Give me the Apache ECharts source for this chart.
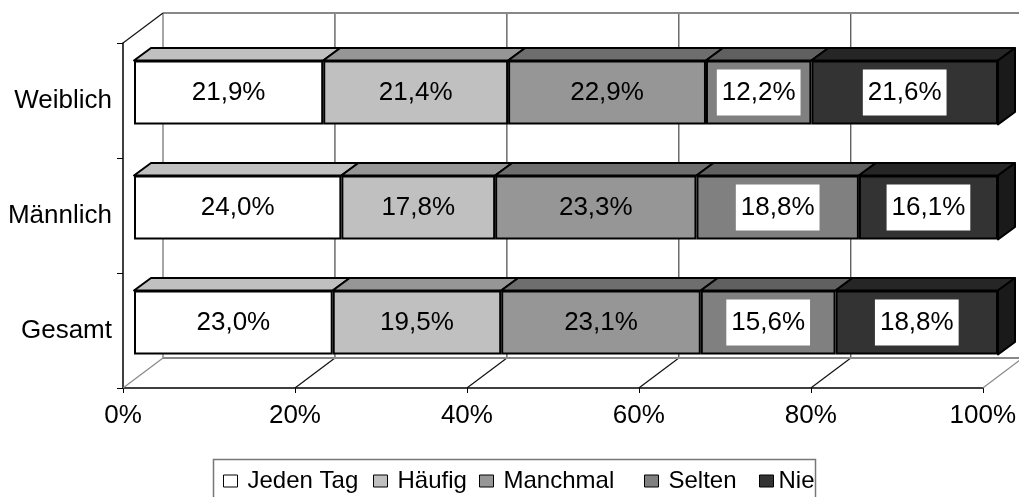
<!DOCTYPE html>
<html>
<head>
<meta charset="utf-8">
<script src="https://cdn.jsdelivr.net/npm/echarts@6/dist/echarts.min.js"></script>
<style>
  html, body { margin: 0; padding: 0; background: #fff; }
  #chart { width: 1019px; height: 497px; }
</style>
</head>
<body>
<div id="chart"></div>
<script>
// data
const categories = ['Weiblich', 'Männlich', 'Gesamt'];
const seriesNames = ['Jeden Tag', 'Häufig', 'Manchmal', 'Selten', 'Nie'];
const jedenTag = [21.9, 24.0, 23.0];
const haeufig = [21.4, 17.8, 19.5];
const manchmal = [22.9, 23.3, 23.1];
const selten = [12.2, 18.8, 15.6];
const nie = [21.6, 16.1, 18.8];
const xTicks = [0, 20, 40, 60, 80, 100];

const values = [jedenTag, haeufig, manchmal, selten, nie];

// styling
const FONT = '"Liberation Sans", Arial, sans-serif';
const frontColors = ['#FFFFFF', '#C0C0C0', '#969696', '#808080', '#333333'];
const topColors = ['#C0C0C0', '#969696', '#6E6E6E', '#606060', '#262626'];
const sideColor = '#1A1A1A';
const boxedLabel = [false, false, false, true, true];
// legend columns, Excel spacing
const legendX = [223, 373, 479, 644, 759];
const legendTextPad = [5, 5, 5, 5, 0];

// 3D geometry (pixels)
const WALL_DX = 40, WALL_DY = -30;     // depth of the chart box
const BAR_DX = 11, BAR_DY = -8;        // front face of the bars inside the box
const DEPTH_DX = 17, DEPTH_DY = -12.5; // depth of the bars
const BAR_W = 64;

const G = { left: 123, right: 32, top: 43, bottom: 109 };

const fmt = v => v.toFixed(1).replace('.', ',') + '%';

// segments for the top / side faces
const segments = [];
categories.forEach((c, ci) => {
  let acc = 0;
  values.forEach((arr, si) => {
    segments.push([acc, acc + arr[ci], ci, si]);
    acc += arr[ci];
  });
});

const chart = echarts.init(document.getElementById('chart'));

const frameSeries = {
  type: 'custom',
  name: 'frame',
  xAxisIndex: 0,
  yAxisIndex: 0,
  clip: false,
  silent: true,
  z: 1,
  data: [[0, 0]],
  renderItem: (params, api) => {
    const cs = params.coordSys;
    const yTop = cs.y, yBot = cs.y + cs.height;
    const kids = [];
    const ln = (x1, y1, x2, y2, stroke, w) => kids.push({
      type: 'line', shape: { x1, y1, x2, y2 }, style: { stroke, lineWidth: w }
    });
    const xs = xTicks.map(t => api.coord([t, 0])[0]);
    // back wall grid + floor diagonals
    xs.forEach((x, i) => {
      const edge = i === 0 || i === xs.length - 1;
      if (!edge) ln(x + WALL_DX, yTop + WALL_DY, x + WALL_DX, yBot + WALL_DY, '#222', 1);
      ln(x, yBot, x + WALL_DX, yBot + WALL_DY, edge ? '#888' : '#111', 1.2);
    });
    const x0 = xs[0], x1 = xs[xs.length - 1];
    // back wall outline
    ln(x0 + WALL_DX, yTop + WALL_DY, x0 + WALL_DX, yBot + WALL_DY, '#888', 1.5);
    ln(x0 + WALL_DX, yTop + WALL_DY, x1 + WALL_DX, yTop + WALL_DY, '#888', 2);
    ln(x0 + WALL_DX, yBot + WALL_DY, x1 + WALL_DX, yBot + WALL_DY, '#888', 2);
    // left wall top edge
    ln(x0, yTop, x0 + WALL_DX, yTop + WALL_DY, '#111', 1.2);
    return { type: 'group', children: kids };
  }
};

const barSeries = seriesNames.map((name, si) => ({
  type: 'bar',
  name,
  stack: 'total',
  xAxisIndex: 1,
  yAxisIndex: 1,
  barWidth: BAR_W,
  z: 3,
  data: values[si],
  itemStyle: { color: frontColors[si], borderColor: '#000', borderWidth: 2 },
  label: {
    show: true,
    position: 'inside',
    color: '#000',
    fontFamily: FONT,
    fontSize: 26,
    formatter: p => fmt(p.value),
    backgroundColor: boxedLabel[si] ? '#fff' : 'transparent',
    padding: boxedLabel[si] ? [10, 5, 10, 5] : 0
  }
}));

const faceSeries = {
  type: 'custom',
  name: 'faces',
  xAxisIndex: 1,
  yAxisIndex: 1,
  clip: false,
  silent: true,
  z: 4,
  data: segments,
  encode: { x: [0, 1], y: 2 },
  renderItem: (params, api) => {
    const s = api.value(0), e = api.value(1), c = api.value(2), k = api.value(3);
    const p0 = api.coord([s, c]);
    const p1 = api.coord([e, c]);
    const yt = p0[1] - BAR_W / 2, yb = p0[1] + BAR_W / 2;
    const kids = [{
      type: 'polygon',
      shape: { points: [[p0[0], yt], [p1[0], yt], [p1[0] + DEPTH_DX, yt + DEPTH_DY], [p0[0] + DEPTH_DX, yt + DEPTH_DY]] },
      style: { fill: topColors[k], stroke: '#000', lineWidth: 2, lineJoin: 'round' }
    }];
    if (k === seriesNames.length - 1) {
      kids.push({
        type: 'polygon',
        shape: { points: [[p1[0], yt], [p1[0] + DEPTH_DX, yt + DEPTH_DY], [p1[0] + DEPTH_DX, yb + DEPTH_DY], [p1[0], yb]] },
        style: { fill: sideColor, stroke: '#000', lineWidth: 2, lineJoin: 'round' }
      });
    }
    return { type: 'group', children: kids };
  }
};

// one legend per entry so each sits in its own column
const legends = seriesNames.map((n, i) => ({
  left: legendX[i],
  top: 469,
  padding: 0,
  itemWidth: 14,
  itemHeight: 12,
  icon: 'rect',
  itemStyle: { borderColor: '#000', borderWidth: 1 },
  textStyle: { color: '#000', fontSize: 24, fontFamily: FONT, padding: [0, 0, 0, legendTextPad[i]] },
  data: [n]
}));

const option = {
  animation: false,
  backgroundColor: '#fff',
  textStyle: { fontFamily: FONT },
  grid: [
    { left: G.left, right: G.right, top: G.top, bottom: G.bottom },
    { left: G.left + BAR_DX, right: G.right - BAR_DX, top: G.top + BAR_DY, bottom: G.bottom - BAR_DY }
  ],
  xAxis: [
    {
      type: 'value', gridIndex: 0, min: 0, max: 100, interval: 20,
      axisLine: { show: true, lineStyle: { color: '#000', width: 1.5 } },
      axisTick: { show: true, length: 5, lineStyle: { color: '#000' } },
      splitLine: { show: false },
      axisLabel: { color: '#000', fontSize: 26, fontFamily: FONT, margin: 15, formatter: '{value}%' }
    },
    { type: 'value', gridIndex: 1, min: 0, max: 100, show: false, splitLine: { show: false } }
  ],
  yAxis: [
    {
      type: 'category', gridIndex: 0, data: categories, inverse: true,
      axisLine: { show: true, lineStyle: { color: '#000', width: 1.5 } },
      axisTick: { show: true, length: 6, lineStyle: { color: '#000' } },
      axisLabel: { color: '#000', fontSize: 26, fontFamily: FONT, margin: 11 }
    },
    { type: 'category', gridIndex: 1, data: categories, inverse: true, show: false }
  ],
  legend: legends,
  graphic: [{
    type: 'rect',
    silent: true,
    z: -1,
    shape: { x: 213.5, y: 459.5, width: 602, height: 60 },
    style: { fill: 'none', stroke: '#777', lineWidth: 1.5 }
  }],
  series: [frameSeries, ...barSeries, faceSeries]
};

chart.setOption(option);
</script>
</body>
</html>
